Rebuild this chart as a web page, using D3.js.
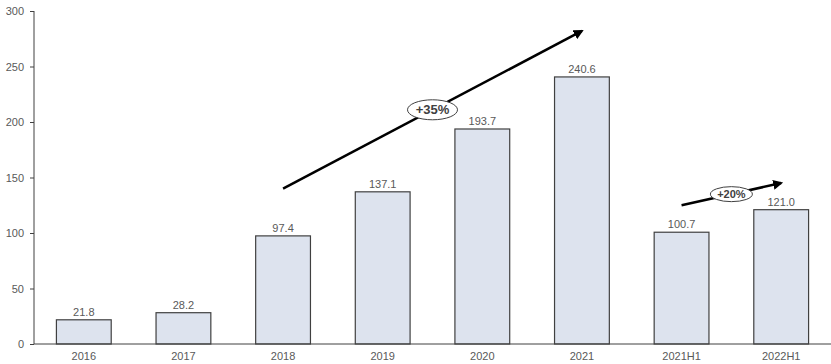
<!DOCTYPE html>
<meta charset="utf-8">
<style>
body { margin: 0; background: #fff; }
.chart text { font-family: "Liberation Sans", Arial, sans-serif; }
.axis text { fill: #595959; font-size: 11px; }
.axis path, .axis line { stroke: #404040; }
.bar { fill: #dde3ee; stroke: #404040; stroke-width: 1.2; }
.val { fill: #595959; font-size: 11px; text-anchor: middle; }
.tag text { font-weight: bold; fill: #404040; text-anchor: middle; }
.tag ellipse { fill: #fff; stroke: #404040; stroke-width: 1; }
</style>
<svg class="chart"></svg>
<script src="https://cdn.jsdelivr.net/npm/d3@7"></script>
<script>

var categories = ["2016","2017","2018","2019","2020","2021","2021H1","2022H1"];
var values = [21.8, 28.2, 97.4, 137.1, 193.7, 240.6, 100.7, 121.0];
var yTicks = [0, 50, 100, 150, 200, 250, 300];

// growth arrows: [from category, from value, to category, to value, label]
var growth = [
	["2018", 140, "2021", 282, "+35%"],
	["2021H1", 125, "2022H1", 145, "+20%"]
];

var width = 831,
	height = 364;

var svg = d3.select(".chart")
	.attr("width", width)
	.attr("height", height);

var x = d3.scaleBand().domain(categories).range([34, 831]).paddingInner(0.45).paddingOuter(0.225);
var y = d3.scaleLinear().domain([0, 300]).range([344, 11]);

svg.append("defs").append("marker")
	.attr("id", "head")
	.attr("viewBox", "0 0 10 10")
	.attr("refX", 8).attr("refY", 5)
	.attr("markerWidth", 4).attr("markerHeight", 4)
	.attr("orient", "auto")
	.append("path")
	.attr("d", "M0,0 L10,5 L0,10 z")
	.attr("fill", "#000");

svg.append("g")
	.attr("class", "axis")
	.attr("transform", "translate(34,0)")
	.call(d3.axisLeft(y).tickValues(yTicks).tickSize(4).tickPadding(6))
	.call(function(g) { g.select(".domain").attr("d", "M0,11V344"); });

svg.selectAll(".bar").data(values)
	.enter().append("rect")
	.attr("class", "bar")
	.attr("x", function(d, i) { return x(categories[i]); })
	.attr("y", function(d) { return y(d); })
	.attr("width", x.bandwidth())
	.attr("height", function(d) { return y(0) - y(d); });

svg.selectAll(".val").data(values)
	.enter().append("text")
	.attr("class", "val")
	.attr("x", function(d, i) { return x(categories[i]) + x.bandwidth() / 2; })
	.attr("y", function(d) { return y(d) - 4; })
	.text(function(d) { return d.toFixed(1); });

svg.append("g")
	.attr("class", "axis")
	.attr("transform", "translate(0,344)")
	.call(d3.axisBottom(x).tickSize(0).tickPadding(8))
	.call(function(g) { g.select(".domain").attr("d", "M34,0H831"); });

var cx = function(c) { return x(c) + x.bandwidth() / 2; };

growth.forEach(function(g, i) {
	var x1 = cx(g[0]), y1 = y(g[1]), x2 = cx(g[2]), y2 = y(g[3]);
	svg.append("line")
		.attr("x1", x1).attr("y1", y1)
		.attr("x2", x2).attr("y2", y2)
		.attr("stroke", "#000")
		.attr("stroke-width", 2.5)
		.attr("marker-end", "url(#head)");
	var t = svg.append("g").attr("class", "tag")
		.attr("transform", "translate(" + (x1 + x2) / 2 + "," + (y1 + y2) / 2 + ")");
	t.append("ellipse")
		.attr("rx", i == 0 ? 25 : 21)
		.attr("ry", i == 0 ? 10 : 7.5);
	t.append("text")
		.attr("dy", "0.36em")
		.style("font-size", i == 0 ? "13px" : "11px")
		.text(g[4]);
});

</script>
